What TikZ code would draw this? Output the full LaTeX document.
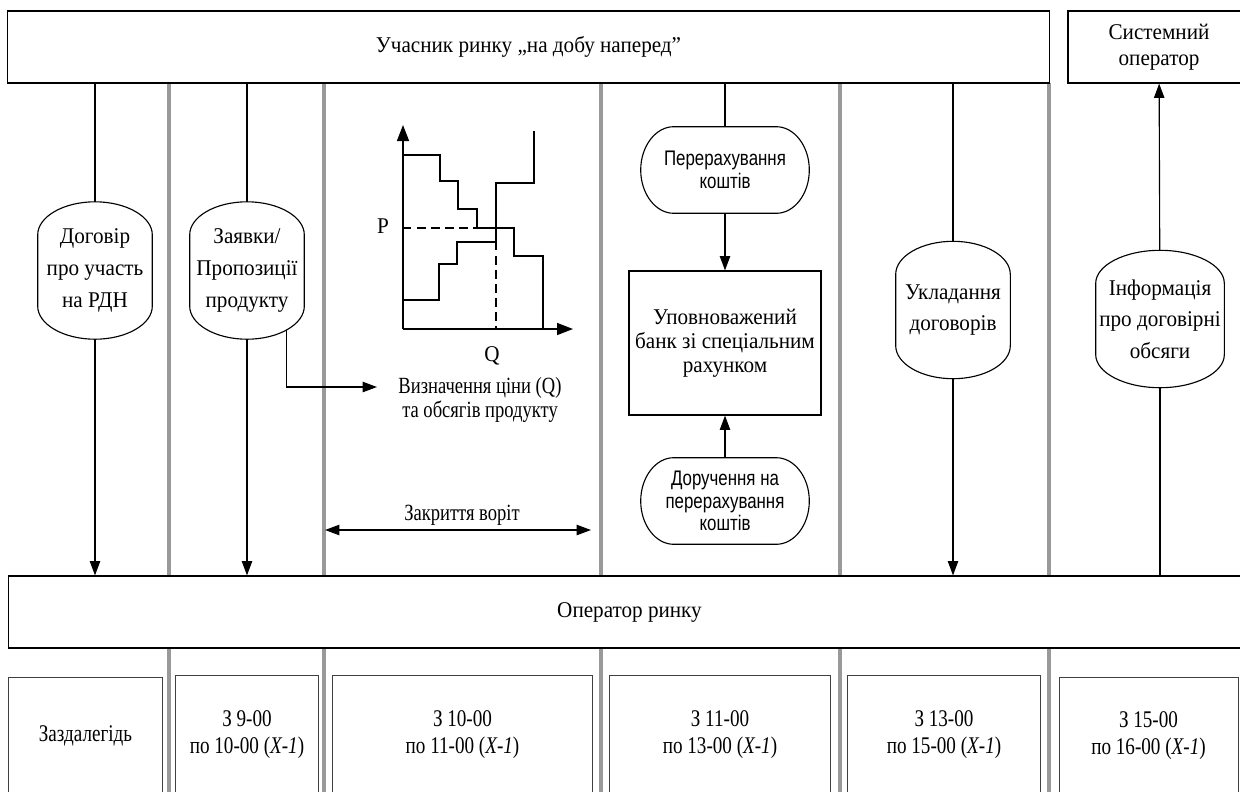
\documentclass[tikz,border=0pt]{standalone}
\usepackage{fontspec}
\setmainfont[FakeStretch=0.94]{Liberation Serif}
\setsansfont[FakeStretch=0.8]{Liberation Sans}
\newfontfamily\narrowserif[FakeStretch=0.8]{Liberation Serif}
\usetikzlibrary{arrows.meta,calc}

% outline of a step with elliptic caps (top and bottom)
\newcommand\ovalrim[1]{%
  \draw[flow] ($(#1.north west)+(0,33)$)
    .. controls ($(#1.north west)+(0,15)$) and ($(#1.north west)!0.448!(#1.north)$) .. (#1.north)
    .. controls ($(#1.north east)!0.448!(#1.north)$) and ($(#1.north east)+(0,15)$) .. ($(#1.north east)+(0,33)$)
    -- ($(#1.south east)+(0,-33)$)
    .. controls ($(#1.south east)+(0,-15)$) and ($(#1.south east)!0.448!(#1.south)$) .. (#1.south)
    .. controls ($(#1.south west)!0.448!(#1.south)$) and ($(#1.south west)+(0,-15)$) .. ($(#1.south west)+(0,-33)$)
    -- cycle;}
% outline of a step with elliptic ends (left and right)
\newcommand\pillrim[1]{%
  \draw[flow] ($(#1.north west)+(33,0)$) -- ($(#1.north east)+(-33,0)$)
    .. controls ($(#1.north east)+(-15,0)$) and ($(#1.north east)!0.448!(#1.east)$) .. (#1.east)
    .. controls ($(#1.south east)!0.448!(#1.east)$) and ($(#1.south east)+(-15,0)$) .. ($(#1.south east)+(-33,0)$)
    -- ($(#1.south west)+(33,0)$)
    .. controls ($(#1.south west)+(15,0)$) and ($(#1.south west)!0.448!(#1.west)$) .. (#1.west)
    .. controls ($(#1.north west)!0.448!(#1.west)$) and ($(#1.north west)+(15,0)$) .. cycle;}

\begin{document}
\begin{tikzpicture}[x=0.025cm, y=-0.025cm,
    lane/.style={line width=2.3pt, draw=black!40},
    flow/.style={line width=0.8pt},
    arr/.style={flow, -{Triangle[length=0.36cm,width=0.26cm]}},
    dbl/.style={flow, {Triangle[length=0.36cm,width=0.26cm]}-{Triangle[length=0.36cm,width=0.26cm]}},
    band/.style={draw, line width=0.8pt, align=center, inner sep=0pt,
      minimum height=1.8cm, font=\fontsize{16}{18.5}\selectfont},
    oval/.style={align=center, minimum width=2.85cm, minimum height=3.42cm,
      inner sep=0pt, font=\fontsize{16}{22.5}\selectfont},
    pill/.style={align=center, minimum width=4.2cm, minimum height=2.15cm,
      inner sep=0pt, font=\sffamily\fontsize{15}{16}\selectfont},
    slot/.style={draw=black!75, line width=0.7pt, align=center, inner sep=0pt,
      minimum height=3cm, font=\narrowserif\fontsize{17}{19.2}\selectfont},
    note/.style={align=center, font=\narrowserif\fontsize{16.5}{17}\selectfont},
    chart/.style={line width=1.1pt}]
  \clip (0,0) rectangle (1240,791);

  % lanes
  \draw[lane] (169,83) -- (169,800);
  \draw[lane] (324,83) -- (324,800);
  \draw[lane] (601,83) -- (601,800);
  \draw[lane] (840,83) -- (840,800);
  \draw[lane] (1049,83) -- (1049,800);

  % participants
  \node[band, minimum width=26.025cm] (part) at (528.5,47) {Учасник ринку „на добу наперед”};
  \node[band, minimum width=4.55cm] (sys) at (1159,47) {Системний\\оператор};
  \node[band, fill=white, minimum width=31.025cm] (oper) at (629.5,612) {Оператор ринку};

  % time slots
  \node[slot, minimum width=3.825cm, minimum height=2.95cm] (t0) at (85.5,736) {Заздалегідь};
  \node[slot, minimum width=3.55cm] (t1) at (247,735) {З 9-00\\по 10-00 (\textit{X-1})};
  \node[slot, minimum width=6.475cm] (t2) at (462.5,735) {З 10-00\\по 11-00 (\textit{X-1})};
  \node[slot, minimum width=5.5cm] (t3) at (720,735) {З 11-00\\по 13-00 (\textit{X-1})};
  \node[slot, minimum width=4.8cm] (t4) at (944,735) {З 13-00\\по 15-00 (\textit{X-1})};
  \node[slot, minimum width=4.475cm, minimum height=2.95cm] (t5) at (1148.5,736) {З 15-00\\по 16-00 (\textit{X-1})};

  % steps
  \node[oval] (dohovir) at (95,270.5) {Договір\\про участь\\на РДН};
  \node[oval] (zayavky) at (247,270.5) {Заявки/\\Пропозиції\\продукту};
  \node[pill] (perer) at (725,170) {Перерахування\\коштів};
  \node[band, minimum width=4.8cm, minimum height=3.6cm,
    font=\fontsize{16}{17}\selectfont] (bank) at (725,343)
    {Уповноважений\\банк зі спеціальним\\рахунком};
  \node[pill] (doruch) at (725,501) {Доручення на\\перерахування\\коштів};
  \node[oval] (uklad) at (953,310) {Укладання\\договорів};
  \node[oval, minimum width=3.2cm] (info) at (1160,319) {Інформація\\про договірні\\обсяги};
  \ovalrim{dohovir}
  \ovalrim{zayavky}
  \ovalrim{uklad}
  \ovalrim{info}
  \pillrim{perer}
  \pillrim{doruch}

  % price chart
  \draw[chart, -{Triangle[length=0.4cm,width=0.3cm]}] (403,329) -- (403,125);
  \draw[chart, -{Triangle[length=0.4cm,width=0.3cm]}] (403,329) -- (573,329);
  \draw[chart] (403,155) -| (440,181) -| (458,209) -| (477,228) -| (514,256) -| (543,329);
  \draw[chart] (403,300) -| (439,264) -| (457,242) -| (496,183) -| (534,131);
  \draw[flow, dash pattern=on 6pt off 4pt] (403,228) -- (477,228);
  \draw[flow, dash pattern=on 6pt off 4pt] (496,242) -- (496,329);
  \node[font=\fontsize{16}{18}\selectfont] (p) at (383,226) {P};
  \node[font=\fontsize{16}{18}\selectfont] (q) at (492,356) {Q};
  \node[note] (vyznach) at (480,400) {Визначення ціни (Q)\\та обсягів продукту};
  \coordinate (vyz-in) at (377,387);

  \node[note] (zakr) at (462,515) {Закриття воріт};
  \coordinate (gate-l) at (325,530);
  \coordinate (gate-r) at (591,530);

  % flows
  \draw[flow] (dohovir |- part.south) -- (dohovir);
  \draw[arr] (dohovir) -- (dohovir |- oper.north);
  \draw[flow] (zayavky |- part.south) -- (zayavky);
  \draw[arr] (zayavky) -- (zayavky |- oper.north);
  \draw[arr] ($(zayavky.south east)+(-18,-9)$) |- (vyz-in);
  \draw[dbl] (gate-l) -- (gate-r);
  \draw[flow] (perer |- part.south) -- (perer);
  \draw[arr] (perer) -- (bank);
  \draw[arr] (doruch) -- (bank);
  \draw[flow] (uklad |- part.south) -- (uklad);
  \draw[arr] (uklad) -- (uklad |- oper.north);
  \draw[flow] (info |- oper.north) -- (info);
  \draw[arr] (info) -- (sys);
\end{tikzpicture}
\end{document}
